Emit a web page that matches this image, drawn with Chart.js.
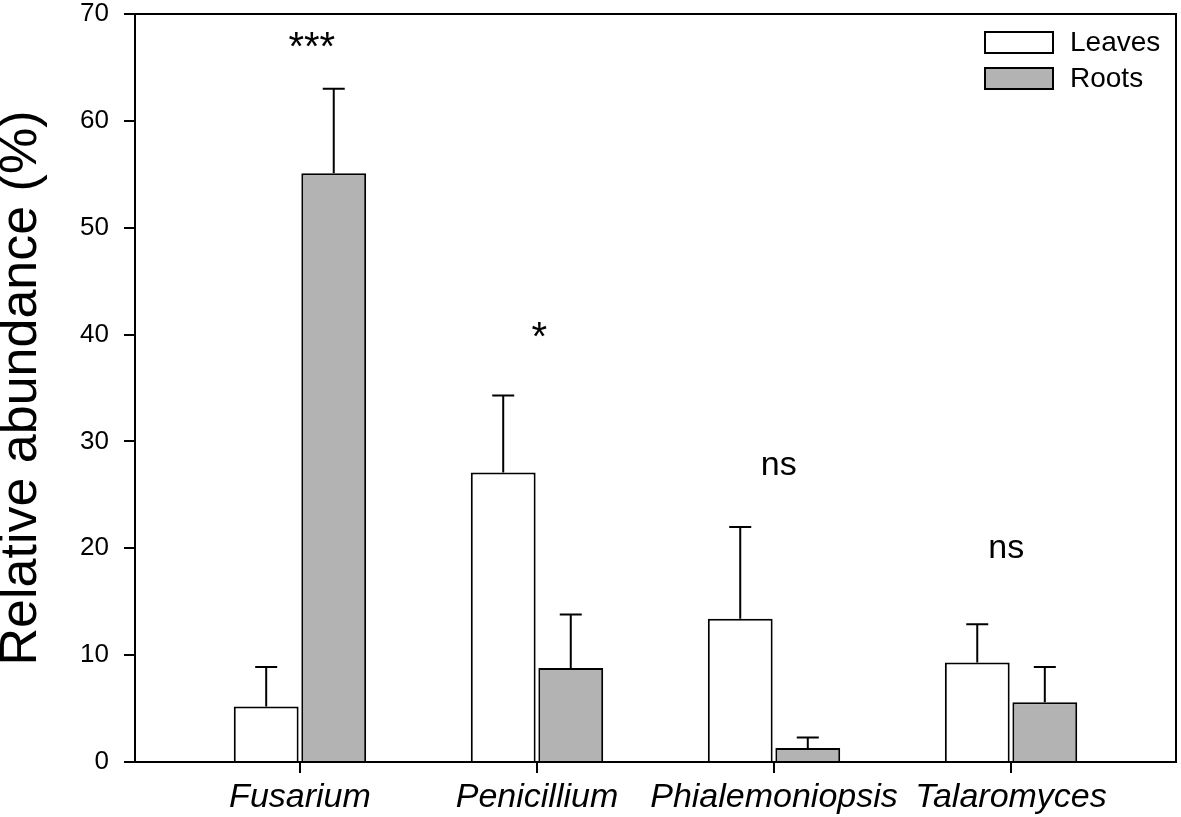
<!DOCTYPE html>
<html>
<head>
<meta charset="utf-8">
<script src="https://cdn.jsdelivr.net/npm/chart.js@4.4.0/dist/chart.umd.min.js"></script>
<style>
  body { margin: 0; background: #fff; }
</style>
</head>
<body>
<canvas id="myChart" width="1181" height="817"></canvas>
<script>
// values
let genera = ['Fusarium', 'Penicillium', 'Phialemoniopsis', 'Talaromyces'];
let leaves = [5.2, 27.1, 13.4, 9.3];
let leavesErr = [3.7, 7.2, 8.6, 3.6];
let roots = [55.1, 8.8, 1.3, 5.6];
let rootsErr = [7.9, 5.0, 1.0, 3.3];
let signif = ['***', '*', 'ns', 'ns'];
let signifX = [0.05, 1.01, 2.02, 2.98];
let signifY = [66.7, 39.6, 27.7, 20.0];
let yTicks = [0, 10, 20, 30, 40, 50, 60, 70];

let FONT = "'Liberation Sans', Arial, sans-serif";
let ctx = document.getElementById('myChart').getContext('2d');

// error bars (upper only), significance marks, frame and legend
const extras = {
    id: 'extras',
    afterDatasetsDraw(chart) {
        let c = chart.ctx;
        let y = chart.scales.y;
        let x = chart.scales.x;
        c.save();
        c.strokeStyle = '#000';
        c.lineWidth = 2;
        chart.data.datasets.forEach((ds, i) => {
            let meta = chart.getDatasetMeta(i);
            meta.data.forEach((bar, j) => {
                let top = y.getPixelForValue(ds.data[j].y + ds.err[j]);
                c.beginPath();
                c.moveTo(bar.x, bar.y);
                c.lineTo(bar.x, top);
                c.moveTo(bar.x - 11, top);
                c.lineTo(bar.x + 11, top);
                c.stroke();
            });
        });

        c.fillStyle = '#000';
        c.textAlign = 'center';
        c.textBaseline = 'middle';
        signif.forEach((s, j) => {
            c.font = (s.indexOf('*') >= 0 ? 40 : 34) + 'px ' + FONT;
            c.fillText(s, x.getPixelForValue(signifX[j]), y.getPixelForValue(signifY[j]));
        });

        let a = chart.chartArea;
        c.strokeRect(a.left, a.top, a.right - a.left, a.bottom - a.top);

        // legend
        let lx = a.right - 191;
        let ly = a.top + 18;
        c.font = '28px ' + FONT;
        c.textAlign = 'left';
        chart.data.datasets.forEach((ds, i) => {
            let by = ly + i * 36;
            c.fillStyle = ds.backgroundColor;
            c.fillRect(lx, by, 68, 21);
            c.strokeRect(lx, by, 68, 21);
            c.fillStyle = '#000';
            c.fillText(ds.label, lx + 85, by + 11);
        });
        c.restore();
    }
};

new Chart(ctx, {
    type: 'bar',
    data: {
        datasets: [{
            label: 'Leaves',
            data: leaves.map((v, i) => ({ x: i, y: v })),
            err: leavesErr,
            backgroundColor: '#ffffff',
            borderColor: '#000000',
            borderWidth: 2
        }, {
            label: 'Roots',
            data: roots.map((v, i) => ({ x: i, y: v })),
            err: rootsErr,
            backgroundColor: '#b3b3b3',
            borderColor: '#000000',
            borderWidth: 2
        }]
    },
    options: {
        responsive: false,
        animation: false,
        layout: { padding: { top: 14, right: 5, left: 0, bottom: 0 } },
        datasets: {
            bar: { categoryPercentage: 0.57, barPercentage: 0.96 }
        },
        plugins: {
            legend: { display: false },
            tooltip: { enabled: false }
        },
        scales: {
            x: {
                type: 'linear',
                min: -0.696,
                max: 3.696,
                offset: false,
                afterBuildTicks: (axis) => { axis.ticks = genera.map((g, i) => ({ value: i })); },
                afterFit: (axis) => {
                    axis.height = 55;
                    axis.paddingLeft = 0;
                    axis.paddingRight = 0;
                },
                grid: { offset: false, drawOnChartArea: false, drawTicks: true, tickLength: 11, color: '#000', lineWidth: 2 },
                border: { display: true, color: '#000', width: 2 },
                ticks: {
                    callback: (v) => genera[v],
                    color: '#000',
                    padding: 4,
                    maxRotation: 0,
                    autoSkip: false,
                    font: { family: FONT, size: 34, style: 'italic' }
                }
            },
            y: {
                min: 0,
                max: 70,
                afterBuildTicks: (axis) => { axis.ticks = yTicks.map(v => ({ value: v })); },
                afterFit: (axis) => {
                    axis.width = 135;
                    axis.paddingTop = 0;
                    axis.paddingBottom = 0;
                },
                grid: { drawOnChartArea: false, drawTicks: true, tickLength: 11, color: '#000', lineWidth: 2 },
                border: { display: true, color: '#000', width: 2 },
                ticks: {
                    color: '#000',
                    padding: 15,
                    font: { family: FONT, size: 26 }
                },
                title: {
                    display: true,
                    text: 'Relative abundance (%)',
                    color: '#000',
                    padding: { top: 0, bottom: 0 },
                    font: { family: FONT, size: 52, lineHeight: 0.85 }
                }
            }
        }
    },
    plugins: [extras]
});
</script>
</body>
</html>
